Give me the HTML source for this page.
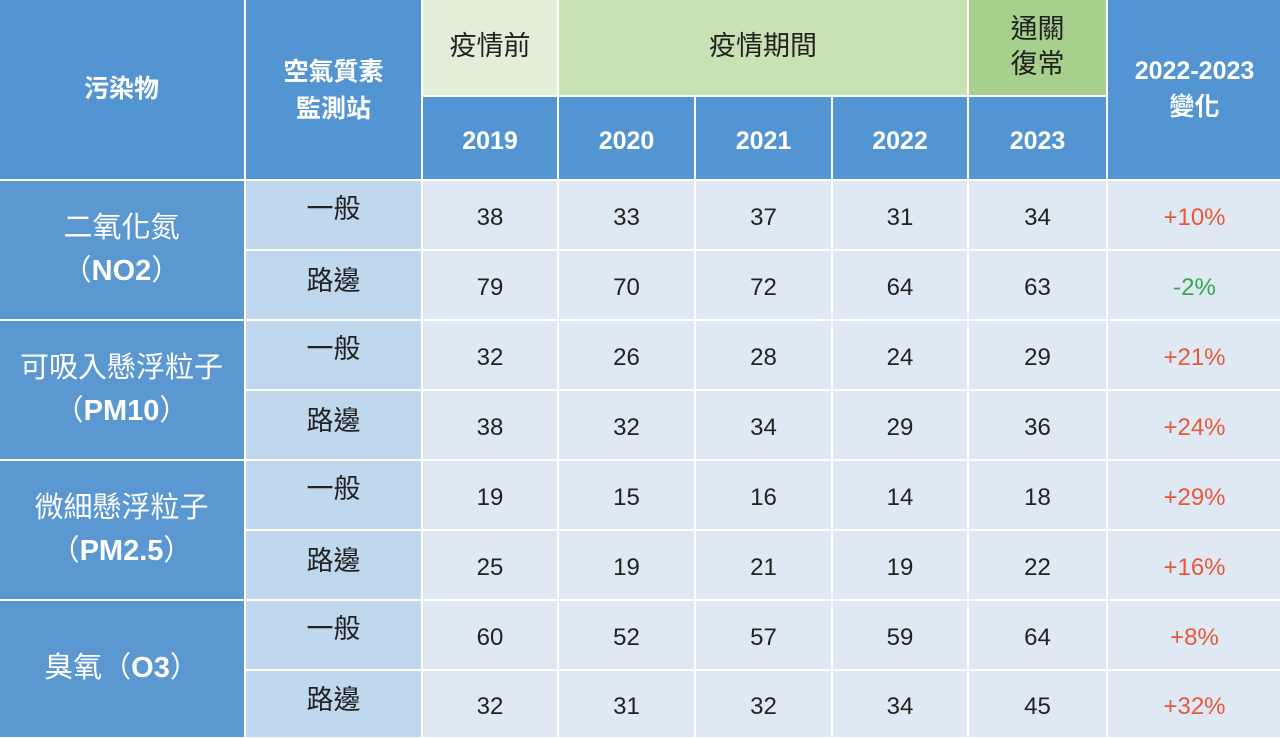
<!DOCTYPE html><html><head><meta charset="utf-8"><style>
body{margin:0;width:1280px;height:738px;overflow:hidden;background:#fff;font-family:"Liberation Sans","Noto Sans CJK TC",sans-serif}
.c{position:absolute;display:flex;align-items:center;justify-content:center;text-align:center;box-sizing:border-box;line-height:1.3}
.c>span{display:block}
.h{background:#5394d2;color:#fff;font-weight:bold;font-size:25px}
.p{background:#5b97d1;color:#fff;font-size:29px;line-height:1.5}
.s{background:#c0d8ee;color:#222;font-size:27px}
.d{background:#dfe9f4;color:#222;font-size:24px;padding-top:6px}
.r{color:#e8583a}.g{color:#3aa84a}
</style></head><body>
<div id="t"></div>
<script>
var X=[0,245,422,558,695,832,968,1107,1280];
var R=[180,250,320,390,460,530,600,670,738];
var o='';
function cell(x1,y1,x2,y2,cls,txt,st){o+='<div class="c '+cls+'" style="left:'+(x1+1)+'px;top:'+(y1+1)+'px;width:'+(x2-x1-2)+'px;height:'+(y2-y1-2)+'px;'+(st||'')+'"><span>'+txt+'</span></div>';}
cell(-2,-2,245,180,'h','污染物');
cell(245,-2,422,180,'h','空氣質素<br>監測站','padding-top:4px;line-height:1.5');
cell(422,-2,558,96,'','疫情前','background:#e3efd9;color:#222;font-size:27px');
cell(558,-2,968,96,'','疫情期間','background:#c9e2b3;color:#222;font-size:27px');
cell(968,-2,1107,96,'','通關<br>復常','background:#a8d08d;color:#222;font-size:27px');
cell(1107,-2,1282,180,'h','2022-2023<br>變化','line-height:1.45');
var yrs=['2019','2020','2021','2022','2023'];
for(var i=0;i<5;i++)cell(X[2+i],96,X[3+i],180,'h',yrs[i],'padding-top:6px');
var P=['二氧化氮<br>（<b>NO2</b>）','可吸入懸浮粒子<br>（<b>PM10</b>）','微細懸浮粒子<br>（<b>PM2.5</b>）','臭氧（<b>O3</b>）'];
for(var i=0;i<4;i++)cell(-2,R[2*i],245,R[2*i+2],'p',P[i]);
var D=[[38,33,37,31,34,'+10%'],[79,70,72,64,63,'-2%'],[32,26,28,24,29,'+21%'],[38,32,34,29,36,'+24%'],[19,15,16,14,18,'+29%'],[25,19,21,19,22,'+16%'],[60,52,57,59,64,'+8%'],[32,31,32,34,45,'+32%']];
for(var r=0;r<8;r++){
 cell(245,R[r],422,R[r+1],'s',r%2?'路邊':'一般','padding-bottom:'+(r%2?6:10)+'px');
 for(var k=0;k<5;k++)cell(X[2+k],R[r],X[3+k],R[r+1],'d',D[r][k]);
 cell(1107,R[r],1282,R[r+1],'d '+(D[r][5][0]=='-'?'g':'r'),D[r][5]);
}
document.getElementById('t').innerHTML=o;
</script>
</body></html>
